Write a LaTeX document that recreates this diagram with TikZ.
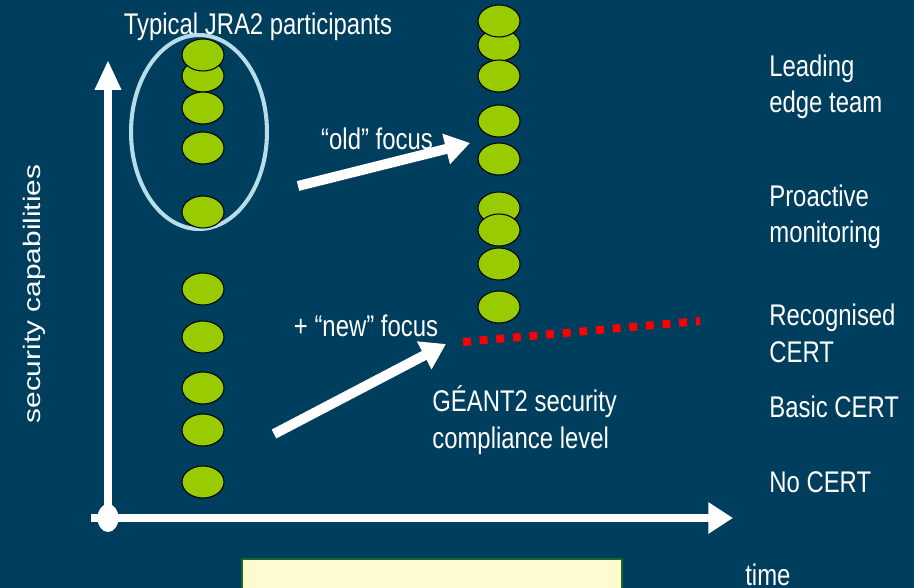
\documentclass[tikz,border=0pt]{standalone}
\usepackage{graphicx}
\usepackage{fontspec}
\setmainfont{Liberation Sans}[FakeStretch=0.8]
\newfontfamily\plainsans{Liberation Sans}
\usetikzlibrary{arrows.meta,shapes.geometric}
\definecolor{slideblue}{RGB}{0,62,94}
\definecolor{dotgreen}{RGB}{153,204,0}
\definecolor{ringblue}{RGB}{183,222,232}
\definecolor{boxyellow}{RGB}{255,251,208}
\definecolor{boxgreen}{RGB}{30,100,40}

\begin{document}
\begin{tikzpicture}
        [x=0.02cm, y=-0.02cm,
        dot/.style={ellipse, draw=black, line width=0.6pt, fill=dotgreen, minimum width=0.84cm, minimum height=0.64cm, inner sep=0pt},
        lbl/.style={text=white, font=\fontsize{17}{20.5}\selectfont, inner sep=0pt},
        axis/.style={white, line width=4.5pt},
        focus/.style={white, line width=5.7pt, -{Triangle[length=14pt,width=17pt]}}]
        \useasboundingbox (0,0) rectangle (914,588);
        \fill[slideblue] (0,0) rectangle (914,588);

        % participants now
        \node[ellipse, draw=ringblue, line width=2.3pt, minimum width=2.72cm, minimum height=3.88cm] (ring) at (199,132) {};
        \node[dot] (L2) at (203,76) {};
        \node[dot] (L1) at (203,55) {};
        \node[dot] (L3) at (203,108) {};
        \node[dot] (L4) at (203,148) {};
        \node[dot] (L5) at (203,212) {};
        \node[dot] (L6) at (203,289) {};
        \node[dot] (L7) at (203,337) {};
        \node[dot] (L8) at (203,388) {};
        \node[dot] (L9) at (203,430) {};
        \node[dot] (L10) at (203,482) {};

        % participants later
        \node[dot] (R2) at (499,45) {};
        \node[dot] (R1) at (499,21) {};
        \node[dot] (R3) at (499,76) {};
        \node[dot] (R4) at (499,121) {};
        \node[dot] (R5) at (499,159) {};
        \node[dot] (R6) at (499,208) {};
        \node[dot] (R7) at (499,230) {};
        \node[dot] (R8) at (499,264) {};
        \node[dot] (R9) at (499,307) {};

        % axes
        \coordinate (O) at (108,518);
        \coordinate (Ytop) at (108,60);
        \coordinate (Xstart) at (91,518);
        \coordinate (Xend) at (733,518);
        \draw[axis, -{Triangle[length=17pt,width=14pt]}] (O) -- (Ytop);
        \draw[axis, line width=5pt, -{Triangle[length=14pt,width=17pt]}] (Xstart) -- (Xend);
        \node[ellipse, fill=white, minimum width=0.42cm, minimum height=0.56cm, inner sep=0pt] (origin) at (O) {};

        % focus arrows
        \coordinate (oldFrom) at (298,186);
        \coordinate (oldTo) at (470,143);
        \coordinate (newFrom) at (274,434);
        \coordinate (newTo) at (446,344);
        \draw[focus] (oldFrom) -- (oldTo);
        \draw[focus] (newFrom) -- (newTo);

        % compliance level
        \coordinate (levelA) at (463,342);
        \coordinate (levelB) at (700,321);
        \draw[red, line width=4.5pt, dash pattern=on 4.5pt off 5pt] (levelA) -- (levelB);

        \filldraw[fill=boxyellow, draw=boxgreen, line width=1pt] (242,559) rectangle (622,600);

        \node[lbl, anchor=base] (jra) at (258,35) {Typical JRA2 participants};
        \node[lbl, anchor=base] (old) at (377,150) {“old” focus};
        \node[lbl, anchor=base] (new) at (366,337) {+ “new” focus};
        \node[lbl, anchor=base west, align=left] (geant) at (432,448) {GÉANT2 security\\compliance level};
        \node[lbl, anchor=base west, align=left] (lead) at (769,113) {Leading\\edge team};
        \node[lbl, anchor=base west, align=left] (proact) at (769,243) {Proactive\\monitoring};
        \node[lbl, anchor=base west, align=left] (recog) at (769,362) {Recognised\\CERT};
        \node[lbl, anchor=base west] (basic) at (769,418) {Basic CERT};
        \node[lbl, anchor=base west] (nocert) at (769,492) {No CERT};
        \node[lbl, anchor=base west] (time) at (745,585) {time};
        \node[lbl, anchor=base, rotate=90] (seccap) at (40,294) {\scalebox{1}[0.8]{\plainsans security capabilities}};
    \end{tikzpicture}
\end{document}
